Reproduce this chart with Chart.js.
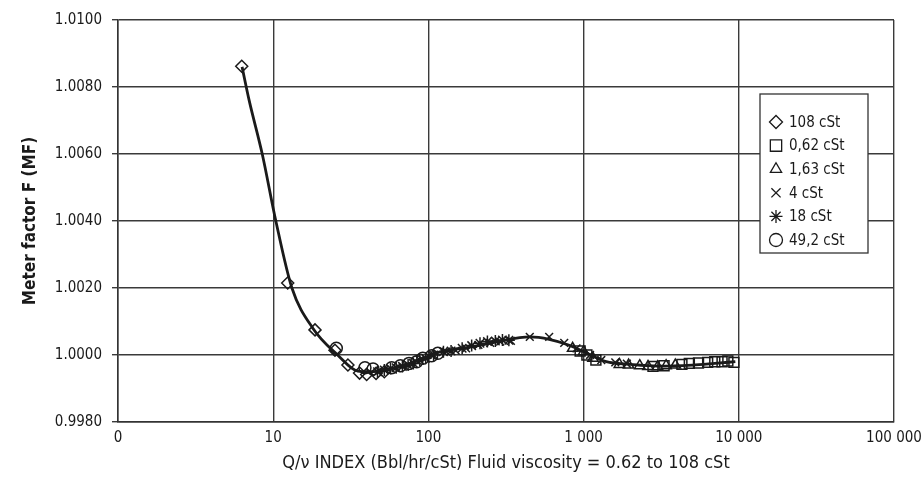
<!DOCTYPE html>
<html>
<head>
<meta charset="utf-8">
<title>Meter factor vs Q/v index</title>
<script src="https://cdn.jsdelivr.net/npm/chart.js@4.4.1/dist/chart.umd.min.js"></script>
<style>
    html, body { margin: 0; padding: 0; background: #ffffff; }
    #wrap { width: 923px; height: 490px; position: relative; }
</style>
</head>
<body>
<div id="wrap"><canvas id="mfChart" width="923" height="490"></canvas></div>
<script>
// ========== DATA ========== //
const seriesNames = ["108 cSt", "0,62 cSt", "1,63 cSt", "4 cSt", "18 cSt", "49,2 cSt"];
const seriesStyles = ["rectRot", "rect", "triangle", "crossRot", "star", "circle"];

const x108 = [6.27, 12.4, 18.6, 25, 30.3, 36, 40, 46, 52];
const y108 = [1.00862, 1.00215, 1.00075, 1.00014, 0.9997, 0.99946, 0.99942, 0.99945, 0.9995];

const x062 = [950, 1050, 1200, 2800, 3300, 4300, 4800, 5500, 6300, 7000, 7800, 8500, 9300];
const y062 = [1.00012, 1.0000, 0.99985, 0.99966, 0.99968, 0.99972, 0.99975, 0.99976, 0.99978, 0.9998, 0.9998, 0.99982, 0.99978];

const x163 = [850, 1000, 1150, 1700, 1950, 2300, 2600, 3000, 3400, 3900];
const y163 = [1.0002, 1.0001, 0.9999, 0.99972, 0.9997, 0.99968, 0.99966, 0.99965, 0.99968, 0.9997];

const x4 = [105, 130, 150, 175, 210, 250, 290, 340, 450, 600, 750, 900, 1100, 1300, 1600, 1900];
const y4 = [1.0000, 1.0001, 1.00013, 1.0002, 1.0003, 1.00036, 1.0004, 1.00042, 1.00054, 1.00054, 1.00036, 1.0002, 1.0000, 0.99985, 0.99978, 0.99974];

const x18 = [47, 52, 57, 62, 68, 74, 80, 88, 96, 108, 125, 140, 165, 190, 215, 240, 270, 300, 330];
const y18 = [0.9995, 0.99955, 0.9996, 0.99962, 0.99966, 0.9997, 0.99975, 0.99985, 0.9999, 1.0000, 1.0001, 1.00012, 1.0002, 1.00028, 1.00035, 1.0004, 1.00042, 1.00045, 1.00044];

const x492 = [25.5, 39, 44, 58, 66, 75, 84, 92, 105, 115];
const y492 = [1.0002, 0.99962, 0.99958, 0.99962, 0.99968, 0.99975, 0.9998, 0.9999, 0.99998, 1.00005];

// trend curve drawn through the cloud
const curveX = [6.3, 7, 8.5, 10.4, 13.2, 18, 26, 35, 42, 55, 70, 100, 120, 190, 280, 450, 600, 800, 1000, 1400, 2000, 3000, 5000, 7000, 9500];
const curveY = [1.0086, 1.0076, 1.0060, 1.0040, 1.0020, 1.0008, 1.0000, 0.99952, 0.9995, 0.99957, 0.9997, 0.99995, 1.0001, 1.00024, 1.0004, 1.00054, 1.00047, 1.0003, 1.0001, 0.9998, 0.99972, 0.99967, 0.9997, 0.99975, 0.9998];

const xTickValues = [1, 10, 100, 1000, 10000, 100000];
const xTickLabels = ["0", "10", "100", "1 000", "10 000", "100 000"];
const yTickValues = [0.998, 1.000, 1.002, 1.004, 1.006, 1.008, 1.010];

const FONT = "'Liberation Sans Narrow', 'DejaVu Sans Condensed', 'Liberation Sans', sans-serif";
const INK = "#1a1a1a";

function toPoints(xs, ys) {
    return xs.map((x, i) => ({ x: x, y: ys[i] }));
}

// hand drawn legend box inside the plot, like the original
const boxLegend = {
    id: "boxLegend",
    afterDraw(chart) {
        const ctx = chart.ctx;
        const left = 760, top = 94, right = 868, rowH = 23.6, first = 122;
        const bottom = first + rowH * (seriesNames.length - 1) + 13;
        ctx.save();
        ctx.fillStyle = "#ffffff";
        ctx.fillRect(left, top, right - left, bottom - top);
        ctx.strokeStyle = "#333";
        ctx.lineWidth = 1.3;
        ctx.strokeRect(left, top, right - left, bottom - top);

        ctx.font = "15px " + FONT;
        ctx.textBaseline = "middle";
        seriesNames.forEach((name, i) => {
            const y = first + i * rowH;
            const opts = { pointStyle: seriesStyles[i], radius: i === 1 ? 8 : 6.5, borderWidth: 1.3, rotation: 0 };
            ctx.strokeStyle = INK;
            ctx.fillStyle = "rgba(0,0,0,0)";
            ctx.lineWidth = 1.3;
            Chart.helpers.drawPoint(ctx, opts, left + 16, y);
            ctx.fillStyle = INK;
            ctx.fillText(name, left + 29, y + 1);
        });
        ctx.restore();
    }
};

document.addEventListener("DOMContentLoaded", function () {
    const ctx = document.getElementById("mfChart").getContext("2d");

    const allX = [x108, x062, x163, x4, x18, x492];
    const allY = [y108, y062, y163, y4, y18, y492];
    const radii = [6, 7, 6, 5.5, 6, 6];

    const datasets = [{
        label: "trend",
        data: toPoints(curveX, curveY),
        showLine: true,
        borderColor: INK,
        borderWidth: 2.8,
        pointRadius: 0,
        cubicInterpolationMode: "monotone",
        fill: false,
        order: 0
    }];

    seriesNames.forEach((name, i) => {
        datasets.push({
            label: name,
            data: toPoints(allX[i], allY[i]),
            showLine: false,
            pointStyle: seriesStyles[i],
            pointRadius: radii[i],
            pointBorderWidth: 1.5,
            pointBorderColor: INK,
            pointBackgroundColor: "rgba(0,0,0,0)",
            order: 1
        });
    });

    new Chart(ctx, {
        type: "scatter",
        data: { datasets: datasets },
        options: {
            responsive: false,
            animation: false,
            devicePixelRatio: 1,
            layout: { padding: { top: 20, right: 29, left: 0, bottom: 0 } },
            plugins: {
                legend: { display: false },
                tooltip: { enabled: false }
            },
            scales: {
                x: {
                    type: "logarithmic",
                    min: 1,
                    max: 100000,
                    afterBuildTicks: (scale) => {
                        scale.ticks = xTickValues.map(v => ({ value: v }));
                    },
                    afterFit: (scale) => {
                        scale.height = 68;
                        scale.paddingLeft = 0;
                        scale.paddingRight = 0;
                    },
                    ticks: {
                        autoSkip: false,
                        maxRotation: 0,
                        padding: 7,
                        color: INK,
                        font: { family: FONT, size: 15 },
                        callback: (value) => {
                            const i = xTickValues.indexOf(value);
                            return i >= 0 ? xTickLabels[i] : "";
                        }
                    },
                    grid: { color: "#3a3a3a", lineWidth: 1.4, drawTicks: false },
                    border: { color: "#333", width: 1.5 },
                    title: {
                        display: true,
                        text: "Q/\u03bd INDEX (Bbl/hr/cSt) Fluid viscosity = 0.62 to 108 cSt",
                        color: INK,
                        font: { family: FONT, size: 18 },
                        padding: { top: 0, bottom: 16 }
                    }
                },
                y: {
                    min: 0.998,
                    max: 1.010,
                    afterBuildTicks: (scale) => {
                        scale.ticks = yTickValues.map(v => ({ value: v }));
                    },
                    afterFit: (scale) => { scale.width = 118; },
                    ticks: {
                        padding: 10,
                        color: INK,
                        font: { family: FONT, size: 15 },
                        callback: (value) => Number(value).toFixed(4)
                    },
                    grid: { color: "#3a3a3a", lineWidth: 1.4, tickLength: 6 },
                    border: { color: "#333", width: 1.5 },
                    title: {
                        display: true,
                        text: "Meter factor F (MF)",
                        color: INK,
                        font: { family: FONT, size: 17, weight: "bold" },
                        padding: { top: 20, bottom: 0 }
                    }
                }
            }
        },
        plugins: [boxLegend]
    });
});
</script>
</body>
</html>
